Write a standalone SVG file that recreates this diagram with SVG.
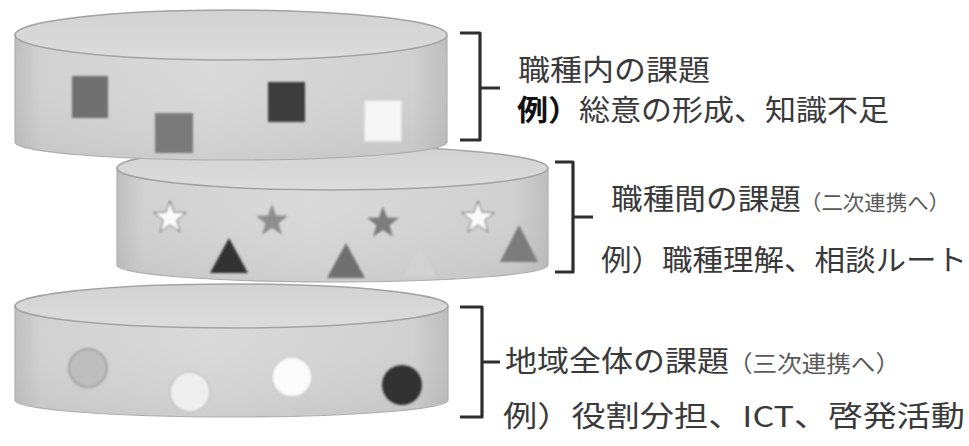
<svg xmlns="http://www.w3.org/2000/svg" width="969" height="446" viewBox="0 0 969 446">
  <style>
    .side { stroke: #b0b0b0; stroke-width: 1.2; }
    .lid { fill: url(#lidGrad); stroke: #a3a3a3; stroke-width: 1.5; }
    .brace { fill: none; stroke: #2e2e2e; stroke-width: 3.2; stroke-linecap: butt; stroke-linejoin: round; }
    .t { font-family: "Noto Sans CJK JP", "Noto Sans", sans-serif; fill: #3a3a3a; font-weight: normal; }
    .big { font-size: 29px; }
    .small { fill: #5a5a5a; }
    .ex { font-weight: bold; fill: #111; }
  </style>
  <defs>
    <linearGradient id="bodyGrad" x1="0" y1="0" x2="1" y2="0">
      <stop offset="0" stop-color="#bdbdbd"/>
      <stop offset="0.06" stop-color="#d0d0d0"/>
      <stop offset="0.45" stop-color="#d9d9d9"/>
      <stop offset="0.92" stop-color="#cfcfcf"/>
      <stop offset="1" stop-color="#bcbcbc"/>
    </linearGradient>
    <linearGradient id="shade" x1="0" y1="0" x2="0" y2="1">
      <stop offset="0" stop-color="#ffffff" stop-opacity="0"/>
      <stop offset="1" stop-color="#a0a0a0" stop-opacity="0.2"/>
    </linearGradient>
    <linearGradient id="lidGrad" x1="0" y1="0" x2="0" y2="1">
      <stop offset="0" stop-color="#d2d2d2"/>
      <stop offset="1" stop-color="#dcdcdc"/>
    </linearGradient>
    <path id="star" d="M0,-17 L4.06,-5.59 L16.17,-5.25 L6.57,2.14 L9.99,13.75 L0,6.9 L-9.99,13.75 L-6.57,2.14 L-16.17,-5.25 L-4.06,-5.59 Z"/>
    <filter id="soft" x="-20%" y="-20%" width="140%" height="140%">
      <feGaussianBlur stdDeviation="0.8"/>
    </filter>
  </defs>

  <!-- bottom layer: whole region -->
  <g id="layer-region">
    <path class="side" fill="url(#bodyGrad)" d="M15,306 L15,400 A216.5,17 0 0 0 448,400 L448,306 Z"/>
    <path fill="url(#shade)" d="M15,306 L15,400 A216.5,17 0 0 0 448,400 L448,306 Z"/>
    <ellipse class="lid" cx="231.5" cy="306" rx="216.5" ry="22"/>
    <g filter="url(#soft)">
      <circle cx="88" cy="368" r="19" fill="#bdbdbd" stroke="#a5a5a5" stroke-width="2"/>
      <circle cx="190" cy="392" r="20" fill="#efefef" stroke="#c2c2c2" stroke-width="1.5"/>
      <circle cx="292" cy="377" r="20" fill="#fbfbfb" stroke="#cccccc" stroke-width="1.5"/>
      <circle cx="402" cy="385" r="20" fill="#333333"/>
    </g>
  </g>

  <!-- middle layer: between professions -->
  <g id="layer-between">
    <path class="side" fill="url(#bodyGrad)" d="M117,168 L117,265 A215.5,17 0 0 0 548,265 L548,168 Z"/>
    <path fill="url(#shade)" d="M117,168 L117,265 A215.5,17 0 0 0 548,265 L548,168 Z"/>
    <ellipse class="lid" cx="332.5" cy="168" rx="215.5" ry="22"/>
    <g filter="url(#soft)">
      <use href="#star" x="170" y="218" fill="#fafafa" stroke="#666" stroke-width="1"/>
      <use href="#star" x="272" y="221" fill="#8e8e8e"/>
      <use href="#star" x="383" y="223" fill="#7c7c7c"/>
      <use href="#star" x="478" y="218" fill="#fafafa" stroke="#666" stroke-width="1"/>
      <polygon points="229,238 248,273 210,273" fill="#333333"/>
      <polygon points="346,243 365,278 327,278" fill="#707070"/>
      <polygon points="420,247 437,277 403,277" fill="#d2d2d2"/>
      <polygon points="519,225 538,262 500,262" fill="#7c7c7c"/>
    </g>
  </g>

  <!-- top layer: within a profession -->
  <g id="layer-within">
    <path class="side" fill="url(#bodyGrad)" d="M15,35 L15,142 A216,18 0 0 0 447,142 L447,35 Z"/>
    <path fill="url(#shade)" d="M15,35 L15,142 A216,18 0 0 0 447,142 L447,35 Z"/>
    <ellipse class="lid" cx="231" cy="35" rx="216" ry="25"/>
    <g filter="url(#soft)">
      <rect x="72" y="76" width="36" height="42" fill="#6f6f6f"/>
      <rect x="155" y="113" width="38" height="40" fill="#7a7a7a"/>
      <rect x="268" y="82" width="37" height="40" fill="#3e3e3e"/>
      <rect x="364" y="100" width="38" height="42" fill="#f6f6f6" stroke="#cfcfcf" stroke-width="1.5"/>
    </g>
  </g>

  <!-- braces tying each layer to its caption -->
  <g id="connectors">
    <path class="brace" d="M460,33 L480,33 L480,140 L460,140 M480,88 L500,88"/>
    <path class="brace" d="M555,162 L573,162 L573,272 L555,272 M573,217 L593,217"/>
    <path class="brace" d="M460,307 L482,307 L482,417 L460,417 M482,362 L500,362"/>
  </g>

  <g id="label-within">
    <text class="t big" x="518" y="81" textLength="192" lengthAdjust="spacingAndGlyphs">職種内の課題</text>
    <text class="t big" x="517" y="121" textLength="372" lengthAdjust="spacingAndGlyphs"><tspan class="ex">例）</tspan>総意の形成、知識不足</text>
  </g>
  <g id="label-between">
    <text class="t big" x="611" y="210" textLength="190" lengthAdjust="spacingAndGlyphs">職種間の課題</text>
    <text class="t small" x="800" y="210" font-size="21" textLength="150" lengthAdjust="spacingAndGlyphs">（二次連携へ）</text>
    <text class="t big" x="601" y="271" textLength="366" lengthAdjust="spacingAndGlyphs">例）職種理解、相談ルート</text>
  </g>
  <g id="label-region">
    <text class="t big" x="505" y="372" textLength="224" lengthAdjust="spacingAndGlyphs">地域全体の課題</text>
    <text class="t small" x="728" y="372" font-size="23" textLength="172" lengthAdjust="spacingAndGlyphs">（三次連携へ）</text>
    <text class="t big" x="503" y="427" textLength="462" lengthAdjust="spacingAndGlyphs">例）役割分担、ICT、啓発活動</text>
  </g>
</svg>
